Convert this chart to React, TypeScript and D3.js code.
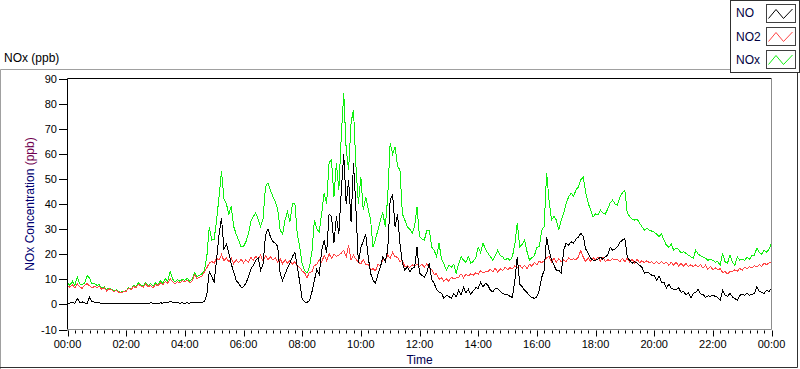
import React, { useRef, useEffect } from 'react';
import * as d3 from 'd3';

// 5-minute readings, 00:00 .. 24:00 (289 points each)
const STEP_MINUTES = 5;

const NO_PPB: number[] = [
  0.3, 0.5, 0.8, 0.4, 2.4, 0.8, 1.0, 0.6, 0.4, 2.8, 1.2, 0.9,
  0.9, 0.6, 0.5, 0.4, 0.5, 0.3, 0.3, 0.4, 0.3, 0.2, 0.3, 0.3,
  0.2, 0.3, 0.2, 0.3, 0.2, 0.4, 0.3, 0.5, 0.4, 0.3, 0.6, 0.5,
  0.5, 0.4, 0.6, 0.5, 0.8, 0.7, 1.3, 0.9, 0.6, 0.7, 0.5, 0.6,
  0.5, 0.6, 0.5, 0.7, 0.6, 0.8, 0.7, 0.9, 1.0, 4.0, 13.0, 11.0,
  9.0, 18.0, 28.0, 34.4, 22.0, 24.0, 20.5, 16.0, 13.0, 9.6, 8.4, 6.8,
  7.0, 8.4, 11.0, 14.0, 15.6, 17.6, 18.4, 13.6, 16.0, 27.6, 30.0, 27.0,
  25.0, 24.4, 23.0, 12.4, 9.6, 12.0, 14.5, 16.4, 19.0, 20.8, 15.0, 9.0,
  2.0, 1.0, 0.8, 1.6, 5.0, 9.6, 14.0, 12.0, 21.6, 25.6, 20.4, 36.0,
  35.0, 24.4, 35.0, 28.0, 45.0, 60.0, 40.0, 49.6, 33.0, 56.4, 38.0, 16.4,
  22.8, 25.0, 28.0, 19.0, 12.4, 9.6, 8.4, 12.0, 14.8, 19.0, 17.0, 21.6,
  41.6, 43.6, 31.0, 36.0, 24.4, 16.4, 13.6, 15.0, 13.0, 14.4, 14.8, 22.8,
  12.4, 11.6, 10.8, 12.6, 16.4, 10.0, 8.4, 6.0, 5.0, 4.4, 2.4, 3.6,
  3.2, 2.4, 4.4, 3.0, 5.6, 3.8, 6.8, 4.6, 6.0, 4.0, 5.4, 6.6,
  6.4, 8.8, 7.0, 8.4, 7.6, 5.6, 5.0, 6.4, 6.4, 5.2, 4.4, 4.0,
  4.0, 3.2, 2.8, 9.6, 19.0, 8.0, 7.0, 5.6, 4.8, 3.4, 2.8, 2.4,
  3.0, 5.6, 10.8, 13.6, 26.8, 21.6, 17.6, 15.6, 13.6, 13.6, 12.4, 21.6,
  24.4, 23.6, 25.0, 24.4, 26.0, 26.8, 28.4, 27.0, 22.0, 20.4, 18.4, 17.6,
  17.6, 18.0, 18.8, 18.0, 19.0, 19.6, 22.8, 21.6, 22.0, 23.0, 24.8, 25.6,
  26.4, 18.8, 17.6, 16.4, 17.0, 16.4, 15.6, 14.8, 12.4, 12.8, 12.4, 11.6,
  11.6, 9.6, 11.4, 8.8, 8.8, 6.6, 8.0, 6.4, 6.0, 5.8, 6.6, 4.8,
  5.2, 3.8, 4.6, 2.6, 4.4, 4.8, 6.0, 4.2, 4.0, 2.8, 3.4, 3.2,
  3.6, 3.2, 2.8, 1.6, 5.6, 3.6, 3.2, 4.4, 3.0, 2.4, 1.6, 3.6,
  4.0, 3.6, 4.4, 3.6, 4.0, 4.4, 7.0, 5.2, 4.8, 4.4, 5.6, 5.2,
  6.4,
];

const NO2_PPB: number[] = [
  7.5, 6.8, 7.9, 6.5, 8.2, 7.0, 6.4, 7.6, 8.3, 7.4, 6.6, 7.1,
  6.8, 7.2, 6.0, 6.6, 5.4, 6.2, 5.8, 5.0, 5.6, 4.8, 4.6, 5.0,
  5.2, 6.4, 5.8, 7.2, 6.6, 8.0, 7.4, 6.8, 8.2, 7.0, 7.6, 6.6,
  8.0, 7.4, 8.6, 7.8, 9.2, 8.4, 10.2, 9.0, 8.2, 9.0, 8.6, 9.4,
  9.0, 9.6, 8.6, 9.4, 11.8, 10.2, 10.8, 11.2, 13.0, 14.6, 16.4, 17.2,
  16.4, 18.4, 17.6, 19.8, 17.4, 18.6, 17.0, 18.4, 16.2, 17.8, 16.6, 18.0,
  16.6, 17.8, 16.8, 18.8, 17.4, 19.2, 18.0, 19.6, 17.2, 19.4, 17.8, 19.0,
  17.8, 18.6, 16.6, 18.2, 16.2, 17.8, 16.4, 17.6, 16.0, 17.0, 15.2, 14.8,
  13.2, 12.6, 10.6, 12.8, 13.0, 15.6, 15.8, 17.8, 16.8, 19.6, 17.4, 20.2,
  18.4, 20.0, 19.2, 19.6, 20.4, 21.6, 19.0, 23.6, 17.6, 19.6, 18.0, 16.8,
  16.2, 18.0, 15.8, 16.0, 13.8, 14.2, 13.4, 15.8, 15.6, 17.8, 17.6, 19.6,
  18.4, 20.8, 19.0, 18.8, 17.0, 17.6, 15.0, 15.4, 14.8, 15.8, 15.2, 16.0,
  15.0, 16.0, 14.8, 16.2, 14.2, 14.0, 12.0, 12.2, 10.0, 10.6, 9.2, 10.2,
  9.2, 10.8, 10.2, 10.6, 10.8, 12.2, 10.6, 12.0, 11.4, 12.2, 11.6, 12.6,
  12.0, 13.4, 12.6, 13.0, 13.0, 14.0, 13.0, 14.4, 12.8, 14.2, 13.4, 14.8,
  13.8, 14.6, 14.2, 15.4, 14.6, 15.6, 14.4, 15.6, 14.2, 16.0, 15.2, 16.8,
  15.8, 17.2, 16.6, 17.4, 18.6, 19.0, 17.0, 18.4, 16.8, 18.2, 17.0, 17.8,
  17.0, 18.6, 17.8, 18.2, 17.8, 18.8, 21.6, 18.8, 17.0, 18.6, 17.2, 18.6,
  17.8, 18.8, 17.2, 18.8, 17.0, 17.8, 17.4, 18.2, 17.8, 17.8, 17.0, 18.4,
  17.0, 18.4, 16.8, 18.0, 16.4, 18.0, 16.6, 17.4, 16.6, 17.4, 16.6, 17.0,
  16.2, 17.0, 16.2, 17.0, 16.2, 16.8, 15.6, 16.8, 15.6, 16.8, 15.2, 16.4,
  15.2, 16.4, 15.0, 15.8, 15.0, 15.8, 15.0, 15.8, 14.4, 15.6, 14.0, 15.2,
  13.8, 14.6, 13.8, 14.2, 12.8, 13.0, 12.2, 13.0, 13.0, 13.8, 13.2, 14.4,
  13.6, 14.8, 14.2, 15.0, 14.6, 15.4, 15.0, 15.8, 15.2, 16.4, 15.8, 16.6,
  16.8,
];

const NOX_PPB: number[] = [
  8.4, 7.6, 9.2, 7.4, 11.0, 8.2, 7.8, 8.6, 11.5, 10.5, 8.2, 8.4,
  7.6, 7.8, 6.4, 7.0, 5.9, 6.5, 6.0, 5.3, 5.9, 5.0, 4.9, 5.2,
  5.4, 6.7, 6.0, 7.6, 6.9, 8.6, 7.8, 7.4, 8.8, 7.3, 8.3, 7.2,
  8.6, 7.9, 9.4, 8.4, 10.2, 9.3, 13.0, 10.1, 8.9, 9.8, 9.2, 10.1,
  9.6, 10.4, 9.2, 10.2, 12.6, 11.0, 11.6, 12.2, 13.6, 19.0, 31.0, 25.6,
  26.0, 33.6, 43.0, 53.0, 42.0, 40.0, 36.0, 39.0, 31.0, 28.0, 25.6, 23.0,
  23.0, 25.0, 28.0, 33.0, 35.0, 36.4, 34.0, 31.0, 34.0, 47.0, 48.4, 45.6,
  43.0, 41.0, 38.0, 29.6, 28.0, 33.6, 37.0, 33.0, 40.0, 40.4, 28.0, 23.0,
  16.0, 13.6, 12.4, 15.0, 21.0, 33.6, 30.0, 29.0, 36.4, 44.4, 40.0, 56.4,
  57.6, 42.8, 56.4, 45.6, 66.8, 84.3, 62.0, 53.6, 72.4, 77.6, 55.0, 40.0,
  50.8, 37.6, 42.8, 38.0, 33.6, 22.8, 26.0, 29.6, 33.6, 36.4, 31.0, 42.8,
  64.4, 60.0, 62.8, 55.0, 53.6, 36.0, 33.6, 31.0, 30.0, 28.4, 31.0, 38.8,
  27.0, 26.0, 25.6, 29.6, 29.6, 22.8, 21.6, 19.0, 24.4, 18.0, 16.0, 13.6,
  15.6, 14.8, 16.0, 12.4, 16.0, 19.0, 17.6, 16.8, 19.0, 16.4, 17.2, 18.4,
  22.8, 20.6, 24.4, 22.0, 20.4, 19.0, 17.6, 19.6, 21.6, 19.4, 19.0, 17.6,
  18.4, 17.6, 19.0, 24.0, 32.4, 22.8, 24.0, 25.6, 21.0, 17.6, 18.6, 19.4,
  22.8, 23.0, 29.6, 31.0, 52.4, 41.6, 33.6, 35.0, 33.6, 29.6, 33.6, 36.4,
  40.4, 42.8, 44.4, 43.0, 45.6, 46.8, 49.6, 50.8, 44.4, 40.4, 37.6, 34.8,
  36.0, 35.6, 37.6, 36.4, 36.0, 38.0, 40.4, 41.6, 40.0, 39.6, 42.8, 44.4,
  45.6, 36.4, 35.0, 34.0, 33.6, 34.0, 32.4, 31.0, 29.6, 30.4, 29.6, 29.2,
  28.8, 28.0, 27.0, 28.0, 25.6, 23.6, 22.8, 24.0, 21.6, 22.4, 22.0, 20.4,
  21.0, 20.4, 19.6, 19.0, 18.4, 21.6, 20.0, 19.4, 18.8, 18.4, 17.6, 18.0,
  17.6, 16.8, 17.2, 15.6, 20.4, 17.0, 16.4, 19.6, 16.8, 15.6, 19.0, 17.6,
  18.0, 17.6, 18.8, 18.0, 19.6, 19.6, 22.4, 20.8, 20.0, 21.6, 20.8, 22.0,
  24.4,
];

const Y_TICKS = [-10, 0, 10, 20, 30, 40, 50, 60, 70, 80, 90];

const SERIES = [
  { name: 'NO', values: NO_PPB, color: '#000000' },
  { name: 'NO2', values: NO2_PPB, color: '#ff4444' },
  { name: 'NOx', values: NOX_PPB, color: '#10f010' },
];

const FONT = '"Liberation Sans", Arial, sans-serif';

const App: React.FC = () => {
  const svgRef = useRef<SVGSVGElement>(null);

  useEffect(() => {
    if (!svgRef.current) return;
    const W = 800;
    const H = 369;
    const plot = { left: 67.5, right: 771.5, top: 78.5, bottom: 329.5 };

    const svg = d3.select(svgRef.current);
    svg.selectAll('*').remove();
    svg.attr('width', W).attr('height', H).attr('viewBox', `0 0 ${W} ${H}`);

    const t0 = new Date(2000, 0, 1, 0, 0);
    const t1 = new Date(2000, 0, 2, 0, 0);
    const timeAt = (i: number) => new Date(t0.getTime() + i * STEP_MINUTES * 60000);

    const x = d3.scaleTime().domain([t0, t1]).range([plot.left, plot.right]);
    const y = d3.scaleLinear().domain([-10, 90]).range([plot.bottom, plot.top]);

    svg.append('rect').attr('width', W).attr('height', H).attr('fill', '#ffffff');

    // outer panel frame
    svg.append('path').attr('d', `M0.5,${H}V69.5H730`).attr('fill', 'none').attr('stroke', '#a0a0a0');
    svg.append('path').attr('d', `M0,367.5H797.5V72`).attr('fill', 'none').attr('stroke', '#303030');

    // graph label
    svg.append('text').attr('x', 4).attr('y', 62).attr('font-family', FONT).attr('font-size', 12)
      .attr('fill', '#000').text('NOx (ppb)');

    // clip for plot area
    svg.append('clipPath').attr('id', 'plotclip').append('rect')
      .attr('x', plot.left).attr('y', plot.top).attr('width', plot.right - plot.left).attr('height', plot.bottom - plot.top);

    // series: NOx under NO2 under NO
    const line = d3.line<number>()
      .x((_, i) => x(timeAt(i)))
      .y(d => y(d));

    const lines = svg.append('g').attr('clip-path', 'url(#plotclip)');
    [...SERIES].reverse().forEach(s => {
      lines.append('path')
        .attr('d', line(s.values) || '')
        .attr('fill', 'none')
        .attr('stroke', s.color)
        .attr('stroke-width', 1)
        .attr('shape-rendering', 'crispEdges');
    });

    // plot frame
    svg.append('path').attr('d', `M${plot.left},${plot.bottom}V${plot.top}H${plot.right}`)
      .attr('fill', 'none').attr('stroke', '#000');
    svg.append('path').attr('d', `M${plot.left},${plot.bottom}H${plot.right}V${plot.top}`)
      .attr('fill', 'none').attr('stroke', '#8c8c8c');

    // Y axis
    const yAxis = svg.append('g');
    Y_TICKS.forEach(v => {
      const yy = Math.round(y(v)) + 0.5;
      yAxis.append('line').attr('x1', 59).attr('x2', plot.left).attr('y1', yy).attr('y2', yy)
        .attr('stroke', '#000');
      yAxis.append('text').attr('x', 57).attr('y', yy).attr('dy', '0.35em').attr('text-anchor', 'end')
        .attr('font-family', FONT).attr('font-size', 11).attr('fill', '#000').text(v);
    });

    // X axis: major every 2h, minor every 15 min
    const xAxis = svg.append('g');
    const minor = d3.timeMinute.every(15)!.range(t0, new Date(t1.getTime() + 1));
    minor.forEach(t => {
      const xx = Math.round(x(t)) + 0.5;
      const isMajor = t.getMinutes() === 0 && (t.getHours() % 2 === 0);
      xAxis.append('line').attr('x1', xx).attr('x2', xx).attr('y1', plot.bottom + 1)
        .attr('y2', plot.bottom + (isMajor ? 7 : 4)).attr('stroke', '#000');
    });
    const fmt = d3.timeFormat('%H:%M');
    d3.timeHour.every(2)!.range(t0, new Date(t1.getTime() + 1)).forEach(t => {
      xAxis.append('text').attr('x', x(t)).attr('y', 348).attr('text-anchor', 'middle')
        .attr('font-family', FONT).attr('font-size', 11).attr('fill', '#000').text(fmt(t));
    });

    svg.append('text').attr('x', (plot.left + plot.right) / 2).attr('y', 364).attr('text-anchor', 'middle')
      .attr('font-family', FONT).attr('font-size', 12).attr('fill', '#000050').text('Time');

    // Y label
    const yl = svg.append('text').attr('transform', 'translate(34,204) rotate(-90)')
      .attr('text-anchor', 'middle').attr('font-family', FONT).attr('font-size', 12);
    yl.append('tspan').attr('fill', '#000070').text('NOx Concentration ');
    yl.append('tspan').attr('fill', '#700050').text('(ppb)');

    // legend
    const lg = svg.append('g');
    lg.append('rect').attr('x', 730.5).attr('y', 0.5).attr('width', 69).attr('height', 72)
      .attr('fill', '#fff').attr('stroke', '#303030');
    SERIES.forEach((s, i) => {
      const top = 3.5 + i * 23.3;
      lg.append('text').attr('x', 736).attr('y', top + 9.5).attr('dy', '0.35em')
        .attr('font-family', FONT).attr('font-size', 12).attr('fill', '#000040').text(s.name);
      lg.append('rect').attr('x', 766.5).attr('y', Math.round(top) + 0.5).attr('width', 29).attr('height', 18)
        .attr('fill', '#fff').attr('stroke', '#404040');
      const bx = 766.5, by = Math.round(top) + 0.5;
      lg.append('polyline')
        .attr('points', [[bx + 2, by + 14], [bx + 9.5, by + 5], [bx + 17, by + 14], [bx + 26, by + 4.5]].map(p => p.join(',')).join(' '))
        .attr('fill', 'none').attr('stroke', s.color).attr('stroke-width', 1);
    });
  }, []);

  return (
    <svg ref={svgRef} style={{ position: 'absolute', left: 0, top: 0, display: 'block' }} />
  );
};

export default App;
